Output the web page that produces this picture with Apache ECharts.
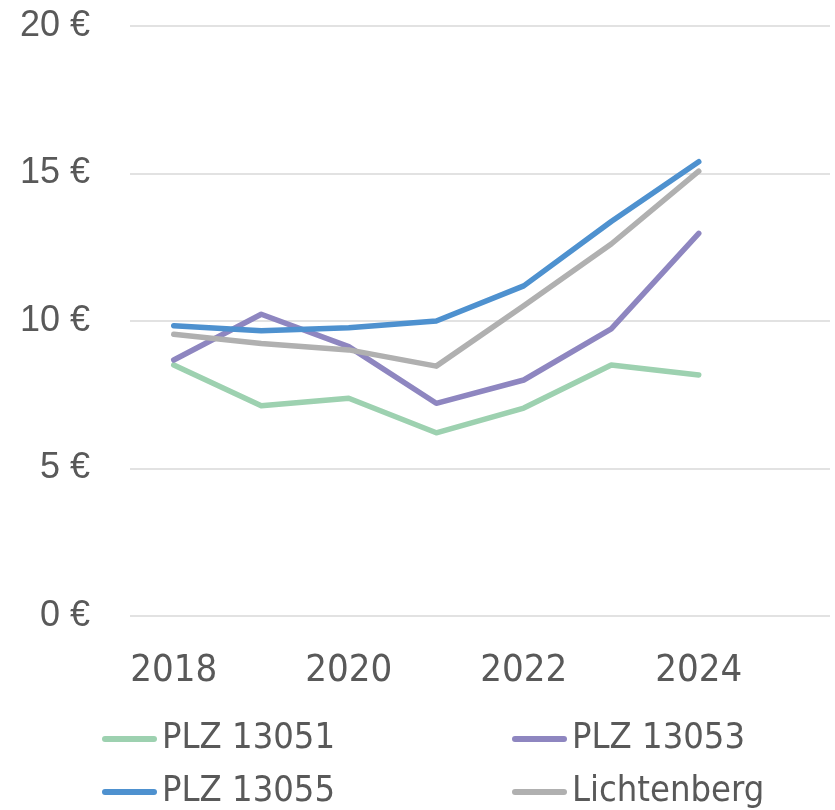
<!DOCTYPE html>
<html lang="de">
  <head>
    <meta charset="utf-8" />
    <style>
      html, body { margin: 0; width: 100%; height: 100%; background: #fff; }
      #container { width: 835px; height: 810px; }
    </style>
    <script src="https://cdn.jsdelivr.net/npm/echarts@6/dist/echarts.min.js"></script>
  </head>
  <body>
    <div id="container"></div>
    <script>
      var years = ["2018", "2019", "2020", "2021", "2022", "2023", "2024", "2025"];
      var plz13051 = [8.51, 7.13, 7.38, 6.21, 7.05, 8.51, 8.17];
      var plz13053 = [8.68, 10.23, 9.13, 7.21, 8.0, 9.73, 12.97];
      var plz13055 = [9.84, 9.67, 9.77, 10.0, 11.19, 13.37, 15.4];
      var lichtenberg = [9.55, 9.24, 9.02, 8.47, 10.52, 12.61, 15.08];
      var yTicks = [0, 5, 10, 15, 20];

      var names = ["PLZ 13051", "PLZ 13053", "PLZ 13055", "Lichtenberg"];
      var colors = ["#9dd1b0", "#8e86c0", "#4e91cf", "#b0b0b0"];
      var values = [plz13051, plz13053, plz13055, lichtenberg];

      var textFont = "'DejaVu Sans Condensed', 'DejaVu Sans', sans-serif";
      var chart = echarts.init(document.getElementById("container"));

      // one legend per entry so the two columns line up like the original
      var legendPos = [[97, 714], [507, 714], [97, 767], [507, 767]];
      var legends = names.map(function (n, i) {
        return {
          data: [n],
          left: legendPos[i][0],
          top: legendPos[i][1],
          itemWidth: 55,
          itemHeight: 6,
          icon: "path://M3,0 L52,0 A3,3 0 0 1 52,6 L3,6 A3,3 0 0 1 3,0 Z",
          textStyle: { fontFamily: textFont, fontSize: 36, lineHeight: 40, color: "#595959" }
        };
      });

      var option = {
        animation: false,
        grid: { left: 130, right: 5, top: 26, bottom: 194 },
        legend: legends,
        xAxis: {
          type: "category",
          data: years,
          boundaryGap: true,
          axisLine: { show: false },
          axisTick: { show: false },
          axisLabel: {
            interval: 1,
            margin: 36,
            fontFamily: textFont,
            fontSize: 38,
            color: "#595959"
          }
        },
        yAxis: {
          type: "value",
          min: yTicks[0],
          max: yTicks[yTicks.length - 1],
          interval: 5,
          axisLine: { show: false },
          axisTick: { show: false },
          splitLine: { lineStyle: { color: "#d9d9d9", width: 1.5 } },
          axisLabel: {
            margin: 40,
            fontFamily: "'Liberation Sans', sans-serif",
            fontSize: 36,
            color: "#595959",
            formatter: function (v) { return v + " €"; }
          }
        },
        series: names.map(function (n, i) {
          return {
            name: n,
            type: "line",
            data: values[i],
            symbol: "none",
            color: colors[i],
            lineStyle: { width: 5.5, color: colors[i], cap: "round", join: "round" }
          };
        })
      };
      chart.setOption(option);
    </script>
  </body>
</html>
